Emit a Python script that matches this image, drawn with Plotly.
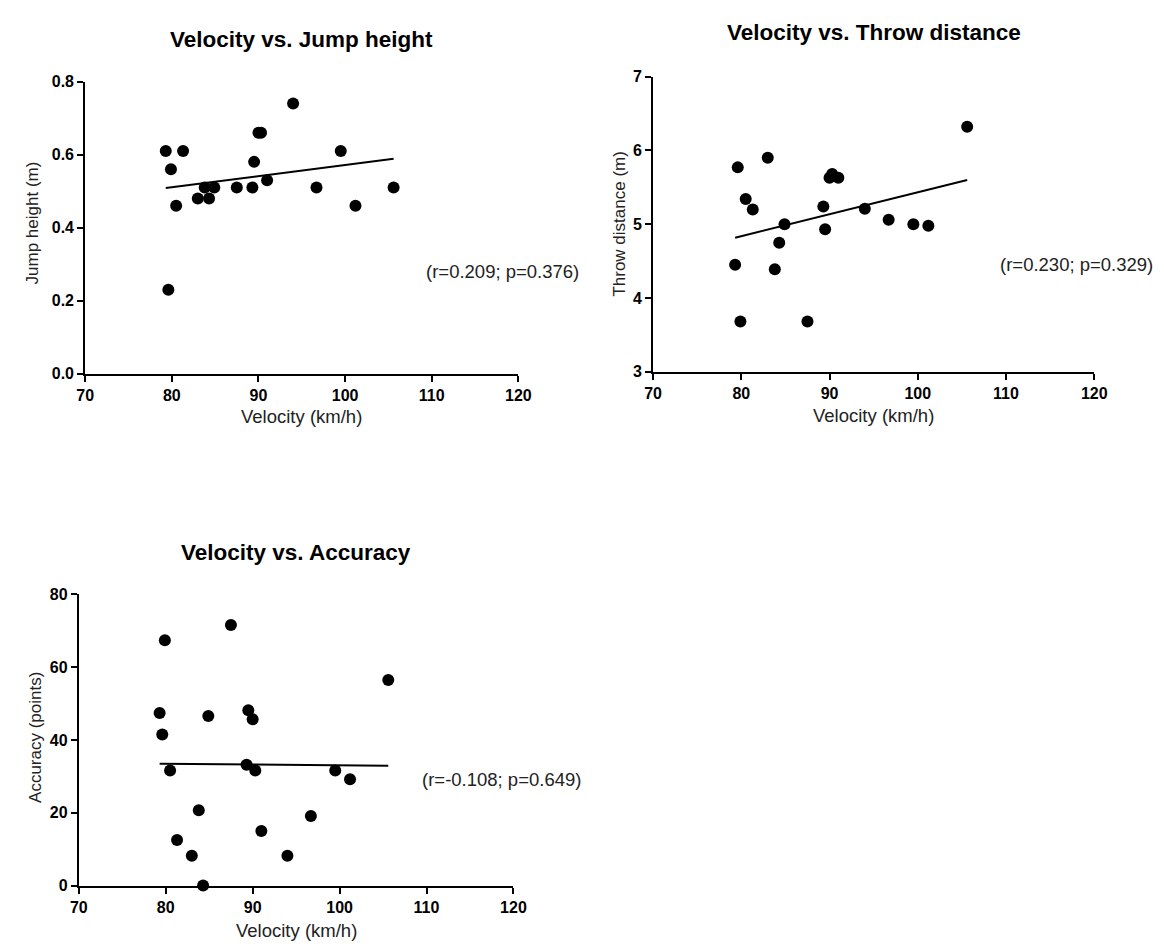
import numpy as np
import plotly.graph_objects as go

# ---- data ----
velocity = [79.3, 79.6, 79.9, 80.5, 81.3, 83.0, 83.8, 84.3, 84.9, 87.5,
            89.3, 89.5, 90.0, 90.3, 91.0, 94.0, 96.7, 99.5, 101.2, 105.6]
jump_height = [0.61, 0.23, 0.56, 0.46, 0.61, 0.48, 0.51, 0.48, 0.51, 0.51,
               0.51, 0.58, 0.66, 0.66, 0.53, 0.74, 0.51, 0.61, 0.46, 0.51]
throw_distance = [4.45, 5.77, 3.68, 5.34, 5.20, 5.90, 4.39, 4.75, 5.00, 3.68,
                  5.24, 4.93, 5.63, 5.68, 5.63, 5.21, 5.06, 5.00, 4.98, 6.32]
accuracy = [47.4, 41.5, 67.4, 31.6, 12.5, 8.2, 20.7, 0.0, 46.6, 71.6,
            33.2, 48.2, 45.7, 31.6, 15.0, 8.2, 19.1, 31.6, 29.2, 56.5]

titles = ["Velocity vs. Jump height", "Velocity vs. Throw distance", "Velocity vs. Accuracy"]
y_titles = ["Jump height (m)", "Throw distance (m)", "Accuracy (points)"]
x_title = "Velocity (km/h)"
stats = ["(r=0.209; p=0.376)", "(r=0.230; p=0.329)", "(r=-0.108; p=0.649)"]
x_ticks = [70, 80, 90, 100, 110, 120]
y_ticks = [[0.0, 0.2, 0.4, 0.6, 0.8], [3, 4, 5, 6, 7], [0, 20, 40, 60, 80]]
y_tickfmt = [".1f", "d", "d"]

W, H = 1164, 947
FONT = "Liberation Sans, Arial, sans-serif"

# panel geometry in pixels: (x_left, x_right, y_top, y_bottom)
panels = [(69.5, 511.0, 66.7, 364.3),
          (648.3, 1098.0, 61.7, 362.3),
          (63.0, 506.0, 589.0, 885.5)]
title_y = [23.5, 16.7, 546.7]
xtitle_y = [408.0, 406.5, 931.5]
ytitle_x = [15.5, 614.0, 19.5]
ytitle_yc = [211.0, 212.0, 735.0]
stat_pos = [(415.0, 260.0), (1000.0, 253.5), (411.0, 777.5)]

def px(x):
    return x / W

def py(y):
    return 1 - y / H

fig = go.Figure()
series = [jump_height, throw_distance, accuracy]
annotations = []
for i, ys in enumerate(series):
    n = "" if i == 0 else str(i + 1)
    xa, ya = "x" + n, "y" + n
    v = np.array(velocity)
    yv = np.array(ys)
    slope, icpt = np.polyfit(v, yv, 1)
    lx = [v.min(), v.max()]
    ly = [slope * lx[0] + icpt, slope * lx[1] + icpt]
    fig.add_trace(go.Scatter(x=lx, y=ly, mode="lines",
                             line=dict(color="black", width=2),
                             xaxis=xa, yaxis=ya, showlegend=False, hoverinfo="skip"))
    fig.add_trace(go.Scatter(x=velocity, y=ys, mode="markers",
                             marker=dict(color="black", size=12, line=dict(width=0)),
                             cliponaxis=False,
                             xaxis=xa, yaxis=ya, showlegend=False))
    x0, x1, y0, y1 = panels[i]
    yr = [y_ticks[i][0], y_ticks[i][-1]]
    common = dict(showline=True, linecolor="black", linewidth=2, ticks="outside",
                  ticklen=6, tickwidth=2, tickcolor="black", showgrid=False,
                  zeroline=False, tickfont=dict(family=FONT, size=16, color="black", weight="bold"))
    fig.update_layout(**{
        "xaxis" + n: dict(domain=[px(x0), px(x1)], range=[70, 120], tickvals=x_ticks,
                          anchor=ya, **common),
        "yaxis" + n: dict(domain=[py(y1), py(y0)], range=yr, tickvals=y_ticks[i],
                          tickformat=y_tickfmt[i], anchor=xa, **common),
    })
    cx = (x0 + x1) / 2
    annotations.append(dict(text="<b>" + titles[i] + "</b>", x=px(cx), y=py(title_y[i]),
                            xref="paper", yref="paper", showarrow=False,
                            xanchor="center", yanchor="middle",
                            font=dict(family=FONT, size=22.5, color="black")))
    annotations.append(dict(text=x_title, x=px(cx), y=py(xtitle_y[i]),
                            xref="paper", yref="paper", showarrow=False,
                            xanchor="center", yanchor="middle",
                            font=dict(family=FONT, size=18.5, color="#222222")))
    annotations.append(dict(text=y_titles[i], x=px(ytitle_x[i]), y=py(ytitle_yc[i]),
                            xref="paper", yref="paper", showarrow=False, textangle=-90,
                            xanchor="center", yanchor="middle",
                            font=dict(family=FONT, size=17, color="#222222")))
    sx, sy = stat_pos[i]
    annotations.append(dict(text=stats[i], x=px(sx), y=py(sy),
                            xref="paper", yref="paper", showarrow=False,
                            xanchor="left", yanchor="middle",
                            font=dict(family=FONT, size=18.5, color="#222222")))

fig.update_layout(width=W, height=H, margin=dict(l=0, r=0, t=0, b=0),
                  paper_bgcolor="white", plot_bgcolor="white",
                  annotations=annotations)
fig.write_html("out.html")
